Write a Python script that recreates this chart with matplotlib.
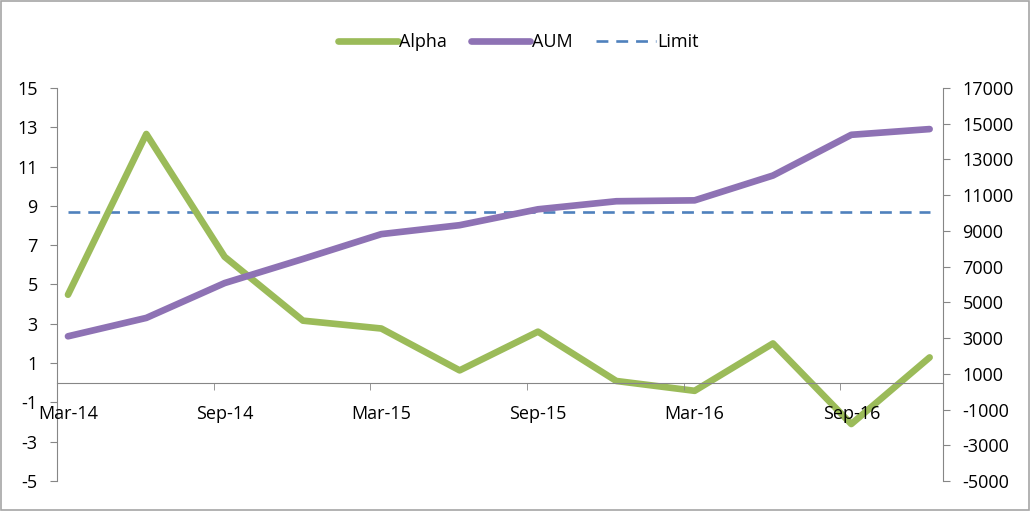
import matplotlib.pyplot as plt
from matplotlib.patches import Rectangle

plt.rcParams['font.family'] = ['Open Sans', 'DejaVu Sans']
plt.rcParams['axes.unicode_minus'] = False

# Quarterly data
quarters = ["Mar-14", "Jun-14", "Sep-14", "Dec-14", "Mar-15", "Jun-15",
            "Sep-15", "Dec-15", "Mar-16", "Jun-16", "Sep-16", "Dec-16"]
alpha = [4.48, 12.66, 6.41, 3.16, 2.76, 0.63, 2.6, 0.09, -0.41, 2.0, -2.1, 1.29]
aum = [3100, 4130, 6080, 7430, 8820, 9320, 10210, 10660, 10710, 12100, 14380, 14700]
limit = 8.7

left_ticks = list(range(-5, 16, 2))
right_ticks = list(range(-5000, 17001, 2000))

green = '#9BBB59'
purple = '#8E72B4'
blue = '#4F81BD'
grey = '#868686'

fig = plt.figure(figsize=(10.31, 5.11), dpi=100)
fig.patches.append(Rectangle((0.001, 0.002), 0.997, 0.996, transform=fig.transFigure,
                             fill=False, edgecolor='#A6A6A6', linewidth=1.2))
ax1 = fig.add_axes([0.0553, 0.0587, 0.8593, 0.7691])
ax2 = ax1.twinx()

x = list(range(len(quarters)))
# keep alpha below the axis labels, like the original
la, = ax1.plot(x, alpha, color=green, lw=4.8, solid_capstyle='round', zorder=2.2)
lb, = ax2.plot(x, aum, color=purple, lw=4.8, solid_capstyle='round', zorder=3)
lc, = ax1.plot([x[0], x[-1]], [limit, limit], color=blue, lw=1.9,
               dashes=(4.5, 3), zorder=2.1)
ax1.set_axisbelow(False)

ax1.set_xlim(-0.14, 11.17)
ax1.set_ylim(-5, 15)
ax2.set_ylim(-5000, 17000)
ax1.set_yticks(left_ticks)
ax2.set_yticks(right_ticks)

# x axis sits on zero of the left scale
ax1.spines['bottom'].set_position(('data', 0))
ax1.spines['top'].set_visible(False)
ax2.spines['top'].set_visible(False)
ax2.spines['bottom'].set_visible(False)
for s in ['left', 'bottom']:
    ax1.spines[s].set_color(grey)
ax1.spines['right'].set_visible(False)
ax2.spines['left'].set_visible(False)
ax2.spines['right'].set_color(grey)

ax1.set_xticks(x[::2])
ax1.set_xticklabels(quarters[::2])
ax1.set_xticks([-0.14 + 2 * k for k in range(6)], minor=True)
ax1.tick_params(axis='x', which='major', length=0, pad=16, labelsize=13)
ax1.tick_params(axis='x', which='minor', length=5, color=grey, direction='out')
ax1.tick_params(axis='y', length=5, color=grey, labelsize=13, pad=9)
ax2.tick_params(axis='y', length=5, color=grey, labelsize=13, pad=9)

fig.legend([la, lb, lc], ['Alpha', 'AUM', 'Limit'], loc='center',
           bbox_to_anchor=(0.503, 0.918), ncol=3, frameon=False, fontsize=13,
           handlelength=3.3, handletextpad=0.1, columnspacing=1.3)

fig.savefig('out.png', dpi=100)
